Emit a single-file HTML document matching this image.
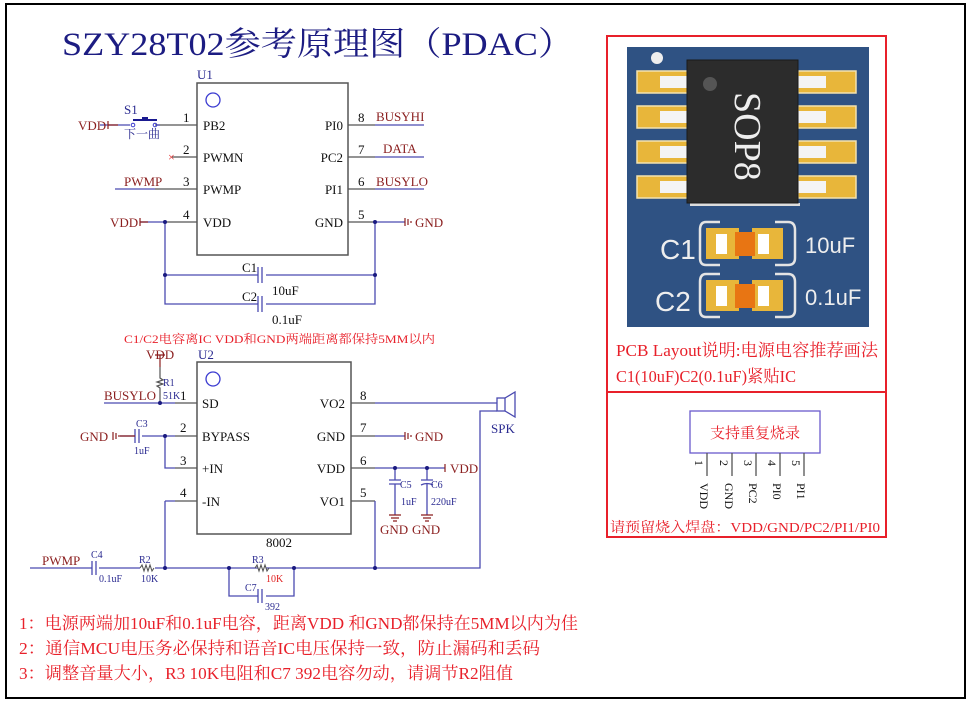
<!DOCTYPE html>
<html><head><meta charset="utf-8"><style>
html,body{margin:0;padding:0;background:#fff}
svg{display:block}
text{font-family:"Liberation Serif","Noto Serif CJK SC",serif}
.w{stroke:#4a4ab0;stroke-width:1.3;fill:none}
.g{stroke:#555;stroke-width:1.3;fill:none}
.n{fill:#8b1f1f;font-size:13px}
.p{fill:#111;font-size:13px}
.b{fill:#2a2a90;font-size:11px}
.r{fill:#e8202a}
</style></head><body>
<svg width="972" height="704" viewBox="0 0 972 704" xmlns="http://www.w3.org/2000/svg">
<rect x="6" y="4" width="959" height="694" fill="#fff" stroke="#000" stroke-width="2"/>
<text x="62" y="55" font-size="33" fill="#1c1c82" textLength="512" lengthAdjust="spacingAndGlyphs">SZY28T02参考原理图（PDAC）</text>

<!-- U1 -->
<rect x="197" y="83" width="151" height="172" fill="#fff" stroke="#555" stroke-width="1.5"/>
<text x="197" y="79" class="b" style="font-size:13px">U1</text>
<circle cx="213" cy="100" r="7" fill="none" stroke="#3a3ad0" stroke-width="1.3"/>
<g class="g"><path d="M155 125H197M172 157H197M155 189H197M165 222H197M348 125H375M348 157H375M348 189H375M348 222H375"/></g>
<g class="w"><path d="M375 125H424M375 157H424M375 189H424M115 189H155M140 222H165M375 222H405M100 125H130M157 125H160"/>
<path d="M165 222V304H258M266 304H375V222M165 275H258M266 275H375"/>
<path d="M258 267V283M262 267V283M258 296V312M262 296V312"/></g>
<circle cx="165" cy="222" r="2" fill="#1a1a80"/><circle cx="375" cy="222" r="2" fill="#1a1a80"/>
<circle cx="165" cy="275" r="2" fill="#1a1a80"/><circle cx="375" cy="275" r="2" fill="#1a1a80"/>
<path d="M108 121V129M108 125H118M140 218V226M140 222H148" stroke="#8b1f1f" stroke-width="1.2"/>
<path d="M405 218V226M408 219V225M411 221V223" stroke="#8b1f1f" stroke-width="1.2"/>
<!-- switch -->
<circle cx="133" cy="125" r="1.8" fill="none" stroke="#3a3ad0"/><circle cx="155" cy="125" r="1.8" fill="none" stroke="#3a3ad0"/>
<path d="M133 120H157M142 118H148" stroke="#1a1a90" stroke-width="2"/>
<text x="124" y="114" class="b" style="font-size:13px">S1</text>
<text x="124" y="138" class="b" style="font-size:12px">下一曲</text>
<text x="183" y="122" class="p">1</text><text x="183" y="154" class="p">2</text><text x="183" y="186" class="p">3</text><text x="183" y="219" class="p">4</text>
<text x="358" y="122" class="p">8</text><text x="358" y="154" class="p">7</text><text x="358" y="186" class="p">6</text><text x="358" y="219" class="p">5</text>
<text x="203" y="130" class="p">PB2</text><text x="203" y="162" class="p">PWMN</text><text x="203" y="194" class="p">PWMP</text><text x="203" y="227" class="p">VDD</text>
<text x="343" y="130" class="p" text-anchor="end">PI0</text><text x="343" y="162" class="p" text-anchor="end">PC2</text><text x="343" y="194" class="p" text-anchor="end">PI1</text><text x="343" y="227" class="p" text-anchor="end">GND</text>
<text x="376" y="121" class="n">BUSYHI</text><text x="383" y="153" class="n">DATA</text><text x="376" y="186" class="n">BUSYLO</text>
<text x="124" y="186" class="n">PWMP</text>
<text x="78" y="130" class="n">VDD</text><text x="110" y="227" class="n">VDD</text><text x="415" y="227" class="n">GND</text>
<text x="168" y="161" fill="#e02020" font-size="12">×</text>
<text x="242" y="272" class="p">C1</text><text x="272" y="295" class="p">10uF</text>
<text x="242" y="301" class="p">C2</text><text x="272" y="324" class="p">0.1uF</text>
<text x="124" y="343" fill="#e8202a" font-size="12" textLength="311" lengthAdjust="spacingAndGlyphs">C1/C2电容离IC VDD和GND两端距离都保持5MM以内</text>

<!-- U2 -->
<rect x="197" y="362" width="154" height="172" fill="#fff" stroke="#555" stroke-width="1.5"/>
<text x="198" y="359" class="b" style="font-size:13px">U2</text>
<circle cx="213" cy="379" r="7" fill="none" stroke="#3a3ad0" stroke-width="1.3"/>
<g class="g"><path d="M175 403H197M175 436H197M175 468H197M175 501H197M351 403H375M351 436H375M351 468H375M351 501H375"/></g>
<g class="w">
<path d="M104 403H175M120 436H135M142 436H175M165 436V468H175M165 501H175V501M165 501V568"/>
<path d="M30 568H92M99 568H140M155 568H258M266 568H480V411H497M375 403H497M375 436H405M375 468H445M375 501V568"/>
<path d="M229 568V596H258M266 596H294V568"/>
<path d="M135 429V443M139 429V443M92 561V575M96 561V575M258 589V603M262 589V603"/>
<path d="M395 468V480M389 480H401M389 484H401M395 484V515M427 468V480M421 480H433M421 485Q427 482 433 485M427 484V515"/>
</g>
<path d="M160 355V367M155 355H165" stroke="#8b1f1f" stroke-width="1.2"/>
<path d="M160 367V378l3 2-6 2 6 2-6 2 3 2V403" fill="none" stroke="#555" stroke-width="1.2"/>
<path d="M140 568l2-3 2 6 2-6 2 6 2-6 2 6 2-3M255 568l2-3 2 6 2-6 2 6 2-6 2 6 2-3" fill="none" stroke="#555" stroke-width="1.1"/>
<path d="M113 432V440M116 433V439M119 435V437M120 436H135" stroke="#8b1f1f" stroke-width="1.2"/>
<path d="M405 432V440M408 433V439M411 435V437M445 464V472" stroke="#8b1f1f" stroke-width="1.2"/>
<path d="M389 515H401M391 518H399M393 521H397M421 515H433M423 518H431M425 521H429" stroke="#8b1f1f" stroke-width="1.2"/>
<g fill="#1a1a80"><circle cx="160" cy="403" r="2"/><circle cx="165" cy="436" r="2"/><circle cx="165" cy="568" r="2"/><circle cx="229" cy="568" r="2"/><circle cx="294" cy="568" r="2"/><circle cx="375" cy="568" r="2"/><circle cx="395" cy="468" r="2"/><circle cx="427" cy="468" r="2"/></g>
<!-- speaker -->
<rect x="497" y="398" width="8" height="13" fill="none" stroke="#4a4ab0" stroke-width="1.3"/>
<path d="M505 398L515 392V417L505 411" fill="none" stroke="#4a4ab0" stroke-width="1.3"/>
<text x="491" y="433" class="b" style="font-size:13px">SPK</text>
<text x="180" y="400" class="p">1</text><text x="180" y="432" class="p">2</text><text x="180" y="465" class="p">3</text><text x="180" y="497" class="p">4</text>
<text x="360" y="400" class="p">8</text><text x="360" y="432" class="p">7</text><text x="360" y="465" class="p">6</text><text x="360" y="497" class="p">5</text>
<text x="202" y="408" class="p">SD</text><text x="202" y="441" class="p">BYPASS</text><text x="202" y="473" class="p">+IN</text><text x="202" y="506" class="p">-IN</text>
<text x="345" y="408" class="p" text-anchor="end">VO2</text><text x="345" y="441" class="p" text-anchor="end">GND</text><text x="345" y="473" class="p" text-anchor="end">VDD</text><text x="345" y="506" class="p" text-anchor="end">VO1</text>
<text x="146" y="359" class="n">VDD</text><text x="104" y="400" class="n">BUSYLO</text>
<text x="163" y="386" class="b" style="font-size:10px">R1</text><text x="163" y="399" class="b" style="font-size:10px">51K</text>
<text x="80" y="441" class="n">GND</text><text x="415" y="441" class="n">GND</text><text x="450" y="473" class="n">VDD</text>
<text x="136" y="427" class="b" style="font-size:10px">C3</text><text x="134" y="454" class="b" style="font-size:10px">1uF</text>
<text x="400" y="488" class="b" style="font-size:10px">C5</text><text x="401" y="505" class="b" style="font-size:10px">1uF</text>
<text x="431" y="488" class="b" style="font-size:10px">C6</text><text x="431" y="505" class="b" style="font-size:10px">220uF</text>
<text x="380" y="534" class="n">GND</text><text x="412" y="534" class="n">GND</text>
<text x="266" y="547" class="p">8002</text>
<text x="42" y="565" class="n">PWMP</text>
<text x="91" y="558" class="b" style="font-size:10px">C4</text><text x="99" y="582" class="b" style="font-size:10px">0.1uF</text>
<text x="139" y="563" class="b" style="font-size:10px">R2</text><text x="141" y="582" class="b" style="font-size:10px">10K</text>
<text x="252" y="563" class="b" style="font-size:10px">R3</text><text x="266" y="582" fill="#e02020" font-size="10">10K</text>
<text x="245" y="591" class="b" style="font-size:10px">C7</text><text x="265" y="610" class="b" style="font-size:10px">392</text>

<text x="19" y="629" class="r" font-size="17" textLength="559" lengthAdjust="spacingAndGlyphs">1：电源两端加10uF和0.1uF电容，距离VDD 和GND都保持在5MM以内为佳</text>
<text x="19" y="654" class="r" font-size="17" textLength="521" lengthAdjust="spacingAndGlyphs">2：通信MCU电压务必保持和语音IC电压保持一致，防止漏码和丢码</text>
<text x="19" y="679" class="r" font-size="17" textLength="494" lengthAdjust="spacingAndGlyphs">3：调整音量大小，R3 10K电阻和C7 392电容勿动，请调节R2阻值</text>

<!-- right panel -->
<rect x="607" y="36" width="279" height="501" fill="none" stroke="#e8202a" stroke-width="2"/>
<line x1="607" y1="392" x2="886" y2="392" stroke="#e8202a" stroke-width="2"/>
<rect x="627" y="47" width="242" height="280" fill="#2f5283"/>
<circle cx="657" cy="58" r="6" fill="#eee"/>
<g fill="#e8b63a" stroke="#f3e2b0" stroke-width="1.5">
<rect x="637" y="71" width="52" height="22"/><rect x="637" y="106" width="52" height="22"/><rect x="637" y="141" width="52" height="22"/><rect x="637" y="176" width="52" height="22"/>
<rect x="798" y="71" width="58" height="22"/><rect x="798" y="106" width="58" height="22"/><rect x="798" y="141" width="58" height="22"/><rect x="798" y="176" width="58" height="22"/>
</g>
<g fill="#f4f4f4"><rect x="660" y="76" width="28" height="12"/><rect x="660" y="111" width="28" height="12"/><rect x="660" y="146" width="28" height="12"/><rect x="660" y="181" width="28" height="12"/>
<rect x="798" y="76" width="28" height="12"/><rect x="798" y="111" width="28" height="12"/><rect x="798" y="146" width="28" height="12"/><rect x="798" y="181" width="28" height="12"/></g>
<rect x="690" y="203" width="110" height="3" fill="#ddd"/>
<rect x="687" y="60" width="111" height="143" fill="#2c2c2c" stroke="#1a1a1a"/>
<circle cx="710" cy="84" r="7" fill="#555"/>
<text transform="translate(735,92) rotate(90)" font-size="38" fill="#eee">SOP8</text>
<g fill="none" stroke="#e4e4e4" stroke-width="2.5">
<path d="M720 222H706Q700 222 700 230V258Q700 265 706 265H720M775 222H788Q795 222 795 230V258Q795 265 788 265H775"/>
<path d="M720 274H706Q700 274 700 282V310Q700 317 706 317H720M775 274H788Q795 274 795 282V310Q795 317 788 317H775"/>
</g>
<g fill="#e8b63a"><rect x="706" y="228" width="33" height="31"/><rect x="752" y="228" width="31" height="31"/><rect x="706" y="280" width="33" height="31"/><rect x="752" y="280" width="31" height="31"/></g>
<g fill="#fff"><rect x="716" y="234" width="11" height="20"/><rect x="758" y="234" width="11" height="20"/><rect x="716" y="286" width="11" height="20"/><rect x="758" y="286" width="11" height="20"/></g>
<rect x="735" y="232" width="20" height="24" fill="#e87513"/><rect x="735" y="284" width="20" height="24" fill="#e87513"/>
<g fill="#eee"><text x="660" y="259" font-size="28" style="font-family:'Liberation Sans',sans-serif">C1</text><text x="655" y="311" font-size="28" style="font-family:'Liberation Sans',sans-serif">C2</text>
<text x="805" y="253" font-size="22" style="font-family:'Liberation Sans',sans-serif">10uF</text><text x="805" y="305" font-size="22" style="font-family:'Liberation Sans',sans-serif">0.1uF</text></g>
<text x="616" y="356" class="r" font-size="17" textLength="262" lengthAdjust="spacingAndGlyphs">PCB Layout说明:电源电容推荐画法</text>
<text x="616" y="382" class="r" font-size="17" textLength="180" lengthAdjust="spacingAndGlyphs">C1(10uF)C2(0.1uF)紧贴IC</text>
<rect x="690" y="411" width="130" height="42" fill="#fff" stroke="#6a5acd" stroke-width="1.3"/>
<text x="755" y="438" class="r" font-size="15" text-anchor="middle">支持重复烧录</text>
<g stroke="#555" stroke-width="1.3"><path d="M707 453V476M732 453V476M756 453V476M780 453V476M804 453V476"/></g>
<g font-size="12" fill="#111">
<text transform="translate(695,460) rotate(90)">1</text><text transform="translate(720,460) rotate(90)">2</text><text transform="translate(744,460) rotate(90)">3</text><text transform="translate(768,460) rotate(90)">4</text><text transform="translate(792,460) rotate(90)">5</text>
<text transform="translate(700,483) rotate(90)">VDD</text><text transform="translate(725,483) rotate(90)">GND</text><text transform="translate(749,483) rotate(90)">PC2</text><text transform="translate(773,483) rotate(90)">PI0</text><text transform="translate(797,483) rotate(90)">PI1</text>
</g>
<text x="610" y="532" class="r" font-size="14" textLength="270" lengthAdjust="spacingAndGlyphs">请预留烧入焊盘：VDD/GND/PC2/PI1/PI0</text>
</svg>
</body></html>
